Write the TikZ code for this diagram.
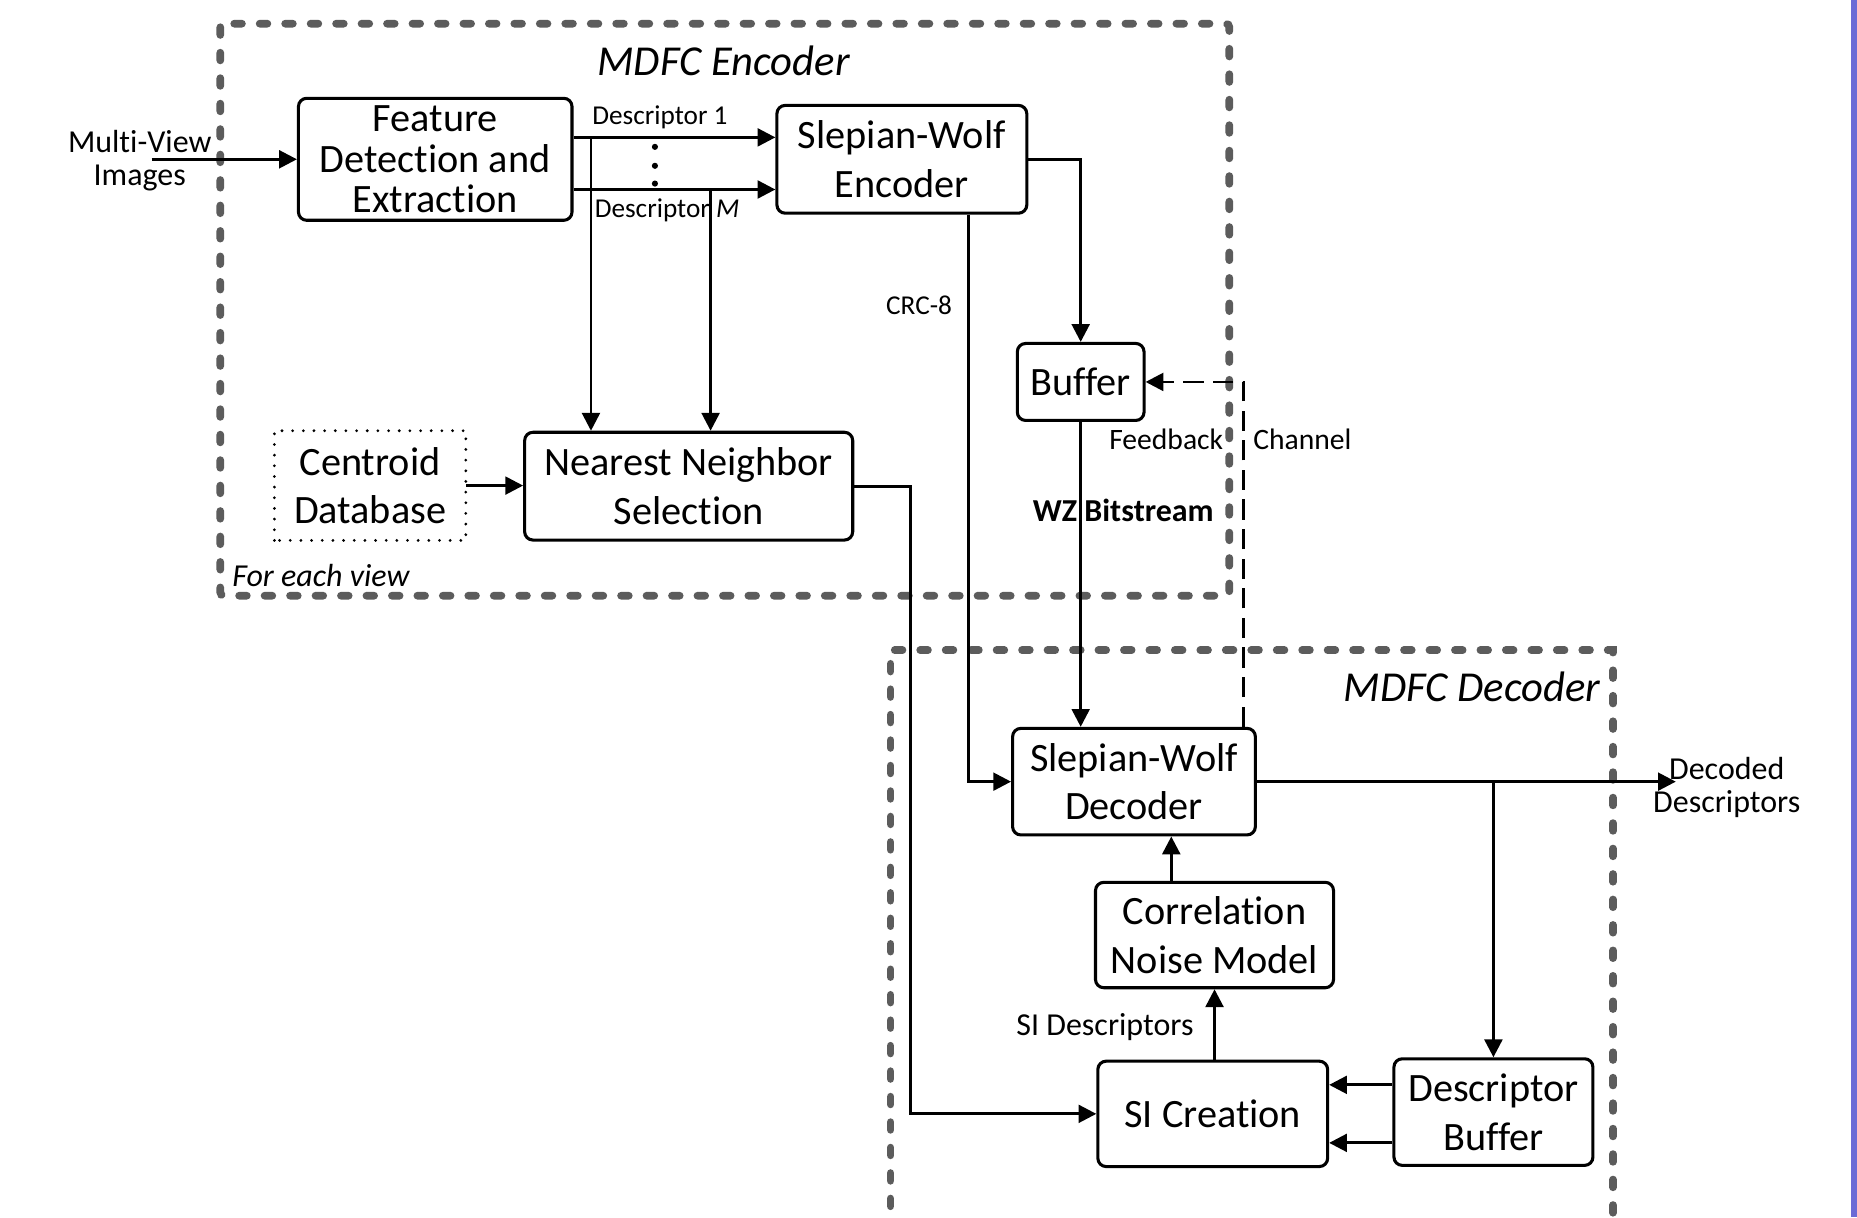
\documentclass[tikz,border=0pt]{standalone}
\usepackage{fontspec}
\setmainfont{Carlito}[Ligatures=NoCommon]
\usetikzlibrary{arrows.meta}
\definecolor{grpgray}{RGB}{92,92,92}
\definecolor{stripc}{RGB}{107,107,214}
\tikzset{
  blk/.style={draw, line width=2.6pt, rounded corners=7pt, align=center, inner sep=0pt,
              font=\fontsize{34}{41}\selectfont},
  arr/.style={line width=2.4pt, -{Triangle[length=15pt,width=15pt]}},
  fbarr/.style={arr, dash pattern=on 17pt off 8pt},
  grp/.style={draw=grpgray, line width=6.5pt, line cap=round, dash pattern=on 6.5pt off 15pt},
  lbl/.style={inner sep=0pt, font=\fontsize{23}{28}\selectfont},
  mlbl/.style={inner sep=0pt, align=center, font=\fontsize{27}{28}\selectfont},
  ttl/.style={inner sep=0pt, font=\fontsize{36}{40}\selectfont\itshape},
}
\begin{document}
\begin{tikzpicture}[x=1pt,y=-1pt]
\useasboundingbox (0,0) rectangle (1568,1028);
\fill[white] (0,0) rectangle (1568,1028);
\fill[stripc] (1563,0) rectangle (1568,1028);

% group boxes
\draw[grp, rounded corners=3pt] (186,20) rectangle (1038,503);
\draw[grp] (752,1040) -- (752,549) -- (1362,549) -- (1362,1040);
\node[ttl] (enct) at (611,51) {MDFC Encoder};
\node[ttl] (dect) at (1243,580) {MDFC Decoder};
\node[ttl, anchor=west, font=\fontsize{27}{30}\selectfont\itshape] (each) at (196,486) {For each view};

% blocks
\node[blk, minimum width=231pt, minimum height=103pt, font=\fontsize{34}{34}\selectfont] (feat) at (367.5,134.5) {Feature\\Detection and\\Extraction};
\node[blk, minimum width=211pt, minimum height=91pt] (swenc) at (761.5,134.5) {Slepian-Wolf\\Encoder};
\node[blk, minimum width=107pt, minimum height=65pt] (buffer) at (912.5,322.5) {Buffer};
\node[blk, draw=none, minimum width=159pt, minimum height=90pt] (cent) at (312.5,410) {Centroid\\Database};
\draw[line width=2.6pt, line cap=round, dash pattern=on 0pt off 9pt] (cent.south west) rectangle (cent.north east);
\node[blk, minimum width=277pt, minimum height=91pt] (nns) at (581.5,410.5) {Nearest Neighbor\\Selection};
\node[blk, minimum width=205pt, minimum height=90pt] (swdec) at (957.5,660) {Slepian-Wolf\\Decoder};
\node[blk, minimum width=201pt, minimum height=89pt] (cnm) at (1025.5,789.5) {Correlation\\Noise Model};
\node[blk, minimum width=194pt, minimum height=89pt] (sicr) at (1024,940.5) {SI Creation};
\node[blk, minimum width=168pt, minimum height=90pt] (dbuf) at (1261,939) {Descriptor\\Buffer};

% helper coordinates
\coordinate (in) at (128,134.5);
\coordinate (d1) at (499,116);
\coordinate (dm) at (600,160);
\coordinate (crc) at (818,0);
\coordinate (fb) at (1050,0);
\coordinate (nnx) at (769,0);
\coordinate (out) at (1415,660);
\coordinate (cx) at (989,0);
\coordinate (ya) at (0,916);
\coordinate (yb) at (0,965);

% labels
\node[mlbl] (mv) at (118,135.5) {Multi-View\\Images};
\node[lbl, anchor=west] (l1) at (500,99) {Descriptor 1};
\node[lbl, anchor=west] (lm) at (502,178) {Descriptor \textit{M}};
\node[lbl] (lcrc) at (776,258) {CRC-8};
\node[lbl, font=\fontsize{27}{28}\selectfont\bfseries] (lwz) at (948.5,431) {WZ Bitstream};
\node[lbl, anchor=east, font=\fontsize{25}{28}\selectfont] (lfb) at (1033,371) {Feedback};
\node[lbl, anchor=west, font=\fontsize{25}{28}\selectfont] (lch) at (1058,371) {Channel};
\node[mlbl] (ldec) at (1458,665) {Decoded\\Descriptors};
\node[mlbl] (lsi) at (933,867) {SI Descriptors};

% dots
\fill (553,124) circle (2.6pt);
\fill (553,140) circle (2.6pt);
\fill (553,155) circle (2.6pt);

% connectors
\draw[arr] (in) -- (feat.west |- in);
\draw[arr] (feat.east |- d1) -- (swenc.west |- d1);
\draw[arr] (feat.east |- dm) -- (swenc.west |- dm);
\draw[arr] (d1) -- (d1 |- nns.north);
\draw[arr] (dm) -- (dm |- nns.north);
\draw[arr] (cent.east) -- (nns.west |- cent.east);
\draw[arr] (swenc.east) -| (buffer.north);
\draw[arr] (swenc.south -| crc) |- (swdec.west);
\draw[arr] (buffer.south) -- (buffer.south |- swdec.north);
\draw[fbarr] (swdec.north -| fb) |- (buffer.east);
\draw[arr] (nns.east) -| (nnx |- sicr.west) -- (sicr.west);
\draw[arr] (swdec.east) -- (out);
\draw[arr] (swdec.east -| dbuf.north) -- (dbuf.north);
\draw[arr] (cnm.north -| cx) -- (swdec.south -| cx);
\draw[arr] (sicr.north -| cnm.south) -- (cnm.south);
\draw[arr] (dbuf.west |- ya) -- (sicr.east |- ya);
\draw[arr] (dbuf.west |- yb) -- (sicr.east |- yb);
\end{tikzpicture}
\end{document}
